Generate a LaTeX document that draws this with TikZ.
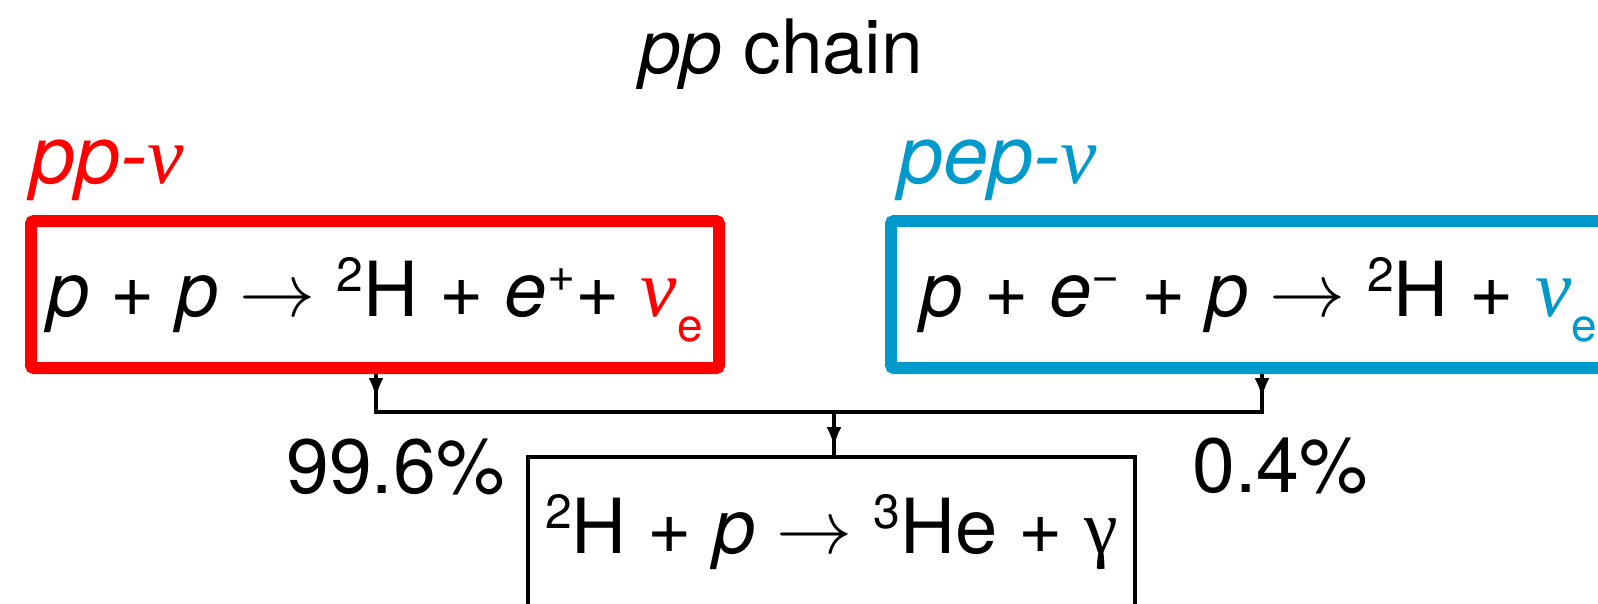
\RequirePackage{fix-cm}
\documentclass[tikz,border=0pt]{standalone}
\usepackage{fontspec}
\setmainfont{TeX Gyre Heros}
\newfontfamily\greekfont{Liberation Serif}
\usetikzlibrary{arrows.meta}

\definecolor{ppred}{RGB}{255,0,0}
\definecolor{pepblue}{RGB}{0,153,204}
\newcommand{\nuit}{{\greekfont\fontsize{82}{82}\selectfont\itshape ν}}
\newcommand{\isup}[1]{\raisebox{25pt}{\fontsize{48}{48}\selectfont #1}}
\newcommand{\isub}[1]{\raisebox{-25pt}{\fontsize{46}{46}\selectfont #1}}

\begin{document}
\begin{tikzpicture}[x=1pt,y=-1pt,
    every node/.style={font=\fontsize{76}{90}\selectfont,inner sep=0pt},
    chainbox/.style={draw,line width=12pt,rounded corners=3pt,text height=95pt,text depth=52pt},
    branch/.style={anchor=base west,font=\fontsize{81}{90}\selectfont},
    link/.style={line width=3.5pt},
    tip/.style={-{Latex[length=20pt,width=15pt]}}]
  \clip (0,0) rectangle (1598,603);
  \node[anchor=base] (title) at (781,73) {\fontsize{75}{90}\selectfont\textit{pp} chain};
  % the two branches
  \node[branch,text=ppred] (pplab) at (30,183) {\textit{pp-}\nuit};
  \node[branch,text=pepblue] (peplab) at (898,183) {\textit{pep-}\nuit};
  \node[chainbox,draw=ppred,minimum width=688pt,anchor=base] (pp) at (375,316)
    {\textit{p} + \textit{p} $\rightarrow$ \isup{2}H + \textit{e}\isup{+}+ {\color{ppred}\nuit\isub{e}}};
  \node[chainbox,draw=pepblue,minimum width=736pt,anchor=base] (pep) at (1259,316)
    {\textit{p} + \textit{e}\isup{\textminus} + \textit{p} $\rightarrow$ \isup{2}H + {\color{pepblue}\nuit\isub{e}}};
  % fusion step
  \node[draw,line width=4.5pt,text height=96pt,text depth=97pt,minimum width=607pt,anchor=base] (fus) at (831.5,553)
    {\isup{2}H + \textit{p} $\rightarrow$ \isup{3}He + {\greekfont γ}};
  \node[anchor=base west] (frac1) at (286,493) {\fontsize{77}{90}\selectfont 99.6\%};
  \node[anchor=base west] (frac2) at (1192,492) {\fontsize{77}{90}\selectfont 0.4\%};
  % connectors
  \coordinate (jl) at (376,412);
  \coordinate (jr) at (1262,412);
  \coordinate (jm) at (834,412);
  \draw[link] (jl |- pp.south) -- (jl) -- (jr) -- (jr |- pep.south);
  \draw[link,tip] (jl |- pp.south) -- ++(0,24);
  \draw[link,tip] (jr |- pep.south) -- ++(0,24);
  \draw[link] (jm) -- (jm |- fus.north);
  \draw[link,tip] (jm) -- ++(0,35);
\end{tikzpicture}
\end{document}
